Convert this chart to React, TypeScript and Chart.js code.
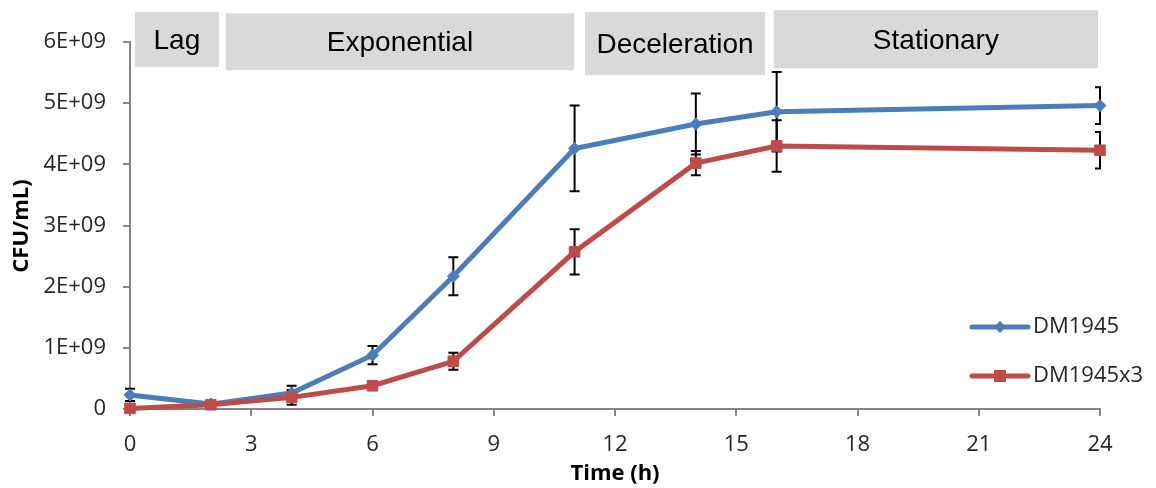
import React, { useEffect, useRef } from 'react';
import { Chart, registerables } from 'chart.js';

Chart.register(...registerables);

// ---------- data ----------
const times = [0, 2, 4, 6, 8, 11, 14, 16, 24];
const seriesNames = ['DM1945', 'DM1945x3'];
const dm1945 = [2.3e8, 0.8e8, 2.6e8, 8.8e8, 2.17e9, 4.26e9, 4.66e9, 4.86e9, 4.96e9];
const dm1945Err = [1.0e8, 0.3e8, 1.2e8, 1.5e8, 3.1e8, 7.0e8, 5.0e8, 6.5e8, 3.0e8];
const dm1945x3 = [0.1e8, 0.7e8, 1.9e8, 3.8e8, 7.8e8, 2.57e9, 4.02e9, 4.3e9, 4.23e9];
const dm1945x3Err = [0, 0.2e8, 1.2e8, 0.3e8, 1.4e8, 3.7e8, 2.0e8, 4.2e8, 3.0e8];

const xTicks = [0, 3, 6, 9, 12, 15, 18, 21, 24];
const xTickLabels = ['0', '3', '6', '9', '12', '15', '18', '21', '24'];
const yTicks = [0, 1e9, 2e9, 3e9, 4e9, 5e9, 6e9];
const yTickLabels = ['0', '1E+09', '2E+09', '3E+09', '4E+09', '5E+09', '6E+09'];

const phaseLabels = ['Lag', 'Exponential', 'Deceleration', 'Stationary'];
const phaseStart = [0.12, 2.37, 11.26, 15.93];
const phaseEnd = [2.2, 10.99, 15.71, 23.95];
const phaseTop = [6.49e9, 6.47e9, 6.49e9, 6.52e9];
const phaseBottom = [5.59e9, 5.54e9, 5.46e9, 5.57e9];

const xTitle = 'Time (h)';
const yTitle = 'CFU/mL)';

const BLUE = '#4a7ebb';
const RED = '#be4b48';
const AXIS = '#868686';
const TICK_TEXT = '#262626';
const TICK_FONT = '"Open Sans", "DejaVu Sans", sans-serif';

function pts(ys: number[]) {
  return times.map((t, i) => ({ x: t, y: ys[i] }));
}

const errorBarsPlugin = {
  id: 'errorBars',
  beforeDatasetsDraw(chart: any) {
    const { ctx, chartArea, scales } = chart;
    const x = scales.x;
    const y = scales.y;
    const sets = [
      { v: dm1945, e: dm1945Err },
      { v: dm1945x3, e: dm1945x3Err },
    ];
    ctx.save();
    ctx.beginPath();
    ctx.rect(0, 0, chartArea.right + 1, chartArea.bottom);
    ctx.clip();
    ctx.strokeStyle = '#000';
    ctx.lineWidth = 2;
    const cap = 5;
    sets.forEach((s) => {
      times.forEach((t, i) => {
        if (!s.e[i]) return;
        const px = x.getPixelForValue(t);
        const top = y.getPixelForValue(s.v[i] + s.e[i]);
        const bot = y.getPixelForValue(Math.max(0, s.v[i] - s.e[i]));
        ctx.beginPath();
        ctx.moveTo(px, top);
        ctx.lineTo(px, bot);
        ctx.moveTo(px - cap, top);
        ctx.lineTo(px + cap, top);
        ctx.moveTo(px - cap, bot);
        ctx.lineTo(px + cap, bot);
        ctx.stroke();
      });
    });
    ctx.restore();
  },
};

function drawDiamond(ctx: CanvasRenderingContext2D, cx: number, cy: number, r: number, color: string) {
  ctx.beginPath();
  ctx.moveTo(cx, cy - r);
  ctx.lineTo(cx + r, cy);
  ctx.lineTo(cx, cy + r);
  ctx.lineTo(cx - r, cy);
  ctx.closePath();
  ctx.fillStyle = color;
  ctx.fill();
}

function drawSquare(ctx: CanvasRenderingContext2D, cx: number, cy: number, half: number, color: string) {
  ctx.fillStyle = color;
  ctx.fillRect(cx - half, cy - half, half * 2, half * 2);
}

const decorPlugin = {
  id: 'decor',
  afterDraw(chart: any) {
    const { ctx, chartArea, scales } = chart;
    const x = scales.x;
    const y = scales.y;
    ctx.save();
    // phase boxes
    phaseLabels.forEach((label, i) => {
      const x0 = x.getPixelForValue(phaseStart[i]);
      const x1 = x.getPixelForValue(phaseEnd[i]);
      const y0 = y.getPixelForValue(phaseTop[i]);
      const y1 = y.getPixelForValue(phaseBottom[i]);
      ctx.fillStyle = '#d9d9d9';
      ctx.fillRect(x0, y0, x1 - x0, y1 - y0);
      ctx.fillStyle = '#000';
      ctx.font = '28px "Liberation Sans", Arial, sans-serif';
      ctx.textAlign = 'center';
      ctx.textBaseline = 'middle';
      ctx.fillText(label, (x0 + x1) / 2, (y0 + y1) / 2 + 2);
    });

    // axis titles
    ctx.fillStyle = '#000';
    ctx.font = `bold 22px ${TICK_FONT}`;
    ctx.textAlign = 'center';
    ctx.textBaseline = 'middle';
    ctx.fillText(xTitle, (chartArea.left + chartArea.right) / 2, 474);
    ctx.save();
    ctx.translate(22, 226);
    ctx.rotate(-Math.PI / 2);
    ctx.fillText(yTitle, 0, 0);
    ctx.restore();

    // legend
    const lx0 = chartArea.right - 128;
    const lx1 = chartArea.right - 72;
    const tx = chartArea.right - 67;
    const rows = [
      { y: chartArea.bottom - 82, color: BLUE, kind: 'diamond' },
      { y: chartArea.bottom - 33, color: RED, kind: 'square' },
    ];
    rows.forEach((r, i) => {
      ctx.strokeStyle = r.color;
      ctx.lineWidth = 5;
      ctx.lineCap = 'round';
      ctx.beginPath();
      ctx.moveTo(lx0, r.y);
      ctx.lineTo(lx1, r.y);
      ctx.stroke();
      const cx = (lx0 + lx1) / 2;
      if (r.kind === 'diamond') drawDiamond(ctx, cx, r.y, 6, r.color);
      else drawSquare(ctx, cx, r.y, 6, r.color);
      ctx.fillStyle = TICK_TEXT;
      ctx.font = `22px ${TICK_FONT}`;
      ctx.textAlign = 'left';
      ctx.textBaseline = 'middle';
      ctx.fillText(seriesNames[i], tx, r.y);
    });
    ctx.restore();
  },
};

export default function App() {
  const ref = useRef<HTMLCanvasElement | null>(null);

  useEffect(() => {
    if (!ref.current) return;
    const chart = new Chart(ref.current, {
      type: 'line',
      data: {
        datasets: [
          {
            label: seriesNames[0],
            data: pts(dm1945),
            borderColor: BLUE,
            backgroundColor: BLUE,
            borderWidth: 5,
            pointStyle: 'rectRot',
            pointRadius: 6,
            pointBorderWidth: 1,
            pointBackgroundColor: BLUE,
            pointBorderColor: BLUE,
            tension: 0,
            clip: false as any,
            order: 1,
          },
          {
            label: seriesNames[1],
            data: pts(dm1945x3),
            borderColor: RED,
            backgroundColor: RED,
            borderWidth: 5,
            pointStyle: 'rect',
            pointRadius: 7.5,
            pointBorderWidth: 1,
            pointBackgroundColor: RED,
            pointBorderColor: RED,
            tension: 0,
            clip: false as any,
            order: 0,
          },
        ],
      },
      options: {
        responsive: false,
        animation: false,
        layout: { padding: { left: 0, right: 56, top: 42, bottom: 0 } },
        plugins: {
          legend: { display: false },
          tooltip: { enabled: false },
          title: { display: false },
        },
        scales: {
          x: {
            type: 'linear',
            min: 0,
            max: 24,
            afterBuildTicks: (s: any) => {
              s.ticks = xTicks.map((v) => ({ value: v }));
            },
            afterFit: (s: any) => {
              s.height = 79;
              s.paddingLeft = 0;
              s.paddingRight = 0;
            },
            ticks: {
              autoSkip: false,
              maxRotation: 0,
              padding: 16,
              color: TICK_TEXT,
              font: { family: TICK_FONT, size: 22 },
              callback: (v: any) => {
                const i = xTicks.indexOf(Number(v));
                return i >= 0 ? xTickLabels[i] : '';
              },
            },
            grid: {
              display: true,
              drawOnChartArea: false,
              drawTicks: true,
              tickLength: 7,
              color: AXIS,
              lineWidth: 2,
            },
            border: { display: true, color: AXIS, width: 2 },
          },
          y: {
            type: 'linear',
            min: 0,
            max: 6e9,
            afterBuildTicks: (s: any) => {
              s.ticks = yTicks.map((v) => ({ value: v }));
            },
            afterFit: (s: any) => {
              s.width = 130;
              s.paddingTop = 0;
              s.paddingBottom = 0;
            },
            ticks: {
              padding: 17,
              color: TICK_TEXT,
              font: { family: TICK_FONT, size: 22 },
              callback: (v: any) => {
                const i = yTicks.indexOf(Number(v));
                return i >= 0 ? yTickLabels[i] : '';
              },
            },
            grid: {
              display: true,
              drawOnChartArea: false,
              drawTicks: true,
              tickLength: 7,
              color: AXIS,
              lineWidth: 2,
            },
            border: { display: true, color: AXIS, width: 2 },
          },
        },
      },
      plugins: [errorBarsPlugin, decorPlugin],
    });
    return () => chart.destroy();
  }, []);

  return (
    <div style={{ position: 'absolute', left: 0, top: 0, width: 1156, height: 488, background: '#fff' }}>
      <canvas ref={ref} width={1156} height={488} style={{ display: 'block' }} />
    </div>
  );
}
